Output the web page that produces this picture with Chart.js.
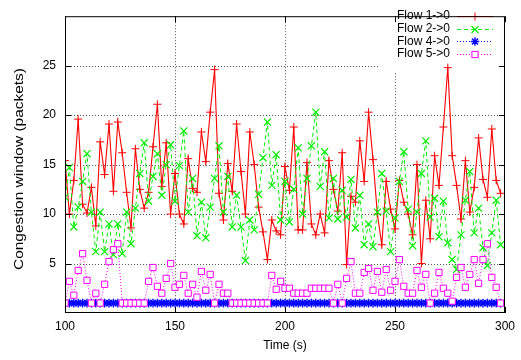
<!DOCTYPE html>
<html>
<head>
<meta charset="utf-8">
<script src="https://cdn.jsdelivr.net/npm/chart.js@4/dist/chart.umd.min.js"></script>
<style>
html,body{margin:0;padding:0;background:#fff;}
#wrap{width:521px;height:360px;}
</style>
</head>
<body>
<div id="wrap"><canvas id="c" width="521" height="360"></canvas></div>
<script>
const times = [100,102,104,106,108,110,112,114,116,118,120,122,124,126,128,130,132,134,136,138,
140,142,144,146,148,150,152,154,156,158,160,162,164,166,168,170,172,174,176,178,
180,182,184,186,188,190,192,194,196,198,200,202,204,206,208,210,212,214,216,218,
220,222,224,226,228,230,232,234,236,238,240,242,244,246,248,250,252,254,256,258,
260,262,264,266,268,270,272,274,276,278,280,282,284,286,288,290,292,294,296,298];

const flow1 = [15.4,10.0,13.4,19.6,11.0,10.1,12.7,8.8,17.3,14.0,
19.1,12.3,19.3,16.2,12.2,8.6,16.6,12.5,10.6,12.2,
16.8,21.1,12.8,17.2,10.0,14.1,10.0,9.0,15.6,12.6,
12.2,18.3,15.3,20.3,24.6,12.1,9.4,15.1,12.3,19.1,
14.3,10.0,18.3,15.0,10.7,8.2,5.4,9.4,8.3,7.9,
14.8,12.4,18.8,8.4,8.4,15.2,9.0,7.9,10.0,8.1,
15.4,12.5,10.3,16.2,4.9,11.8,11.2,17.4,13.3,20.3,
15.5,10.0,6.9,13.3,10.5,8.5,13.4,11.2,10.0,7.9,
15.0,5.0,11.4,7.5,15.9,12.9,18.8,24.8,15.9,12.9,
9.5,15.4,10.2,12.7,17.7,13.5,11.7,18.6,13.4,12.1];

const flow2 = [11.7,14.7,8.7,10.7,13.3,16.1,10.2,6.2,10.2,6.2,
9.0,5.9,9.0,6.0,10.2,7.0,10.6,14.1,17.2,11.3,
13.8,16.1,11.9,15.0,17.0,11.3,14.9,18.4,10.2,13.6,
7.8,11.2,7.6,10.7,13.6,16.9,10.2,13.8,8.7,11.9,
8.7,5.3,9.4,8.4,12.0,15.7,19.3,12.9,16.0,9.4,
13.3,9.2,12.5,16.7,10.0,13.6,16.9,20.3,12.8,16.3,
9.6,13.6,9.5,12.4,9.7,13.5,8.6,11.9,6.9,9.0,
6.7,10.2,14.1,10.3,6.2,9.6,13.3,16.3,10.5,6.8,
10.2,14.1,17.4,9.7,11.6,7.7,11.3,7.1,5.4,4.4,
7.9,11.4,14.3,8.1,10.6,6.6,4.8,8.1,11.4,6.9];

const flow4 = [1,1,1,1,1,1,1,1,1,1,1,1,1,1,1,1,1,1,1,1,
1,1,1,1,1,1,1,1,1,1,1,1,1,1,1,1,1,1,1,1,
1,1,1,1,1,1,1,1,1,1,1,1,1,1,1,1,1,1,1,1,
1,1,1,1,1,1,1,1,1,1,1,1,1,1,1,1,1,1,1,1,
1,1,1,1,1,1,1,1,1,1,1,1,1,1,1,1,1,1,1,1];

const flow5 = [1,3.2,1.8,4.3,6.0,3.3,1,2.0,1,2.9,
5.2,6.4,7.0,1,1,1,1,1,1,3.2,
4.6,2.7,2.0,3.5,5.0,2.6,2.9,3.8,2.0,2.9,
1.6,4.2,2.3,3.9,1,2.9,2.0,2.0,1,1,
1,1,1,1,1,1,1,3.8,2.4,3.2,
2.5,2.5,2.0,2.0,2.0,2.0,2.5,2.5,2.5,2.5,
2.5,1,2.9,1,3.5,5.2,2.0,2.0,4.1,4.5,
2.3,4.2,2.1,4.4,2.3,3.2,5.4,2.7,2.0,2.0,
4.3,2.6,3.9,1,2.0,4.1,2.5,2.0,1.2,3.6,
4.6,2.6,3.9,5.4,3.0,5.4,7.0,3.6,2.6,1];

const seriesLabels = ['Flow 1->0','Flow 2->0','Flow 4->0','Flow 5->0'];
const xTicks = [100,150,200,250,300];
const yTicks = [5,10,15,20,25];
const xTitle = 'Time (s)';
const yTitle = 'Congestion window (packets)';

const FONT = "'Liberation Sans', Arial, Helvetica, sans-serif";
Chart.defaults.font.family = FONT;
Chart.defaults.font.size = 12;
Chart.defaults.color = '#000';

function pts(arr){ return arr.map((v,i)=>({x:times[i], y:v})); }

const styles = [
  {color:'#ff0000', dash:[], ps:'cross', r:4, bg:'rgba(0,0,0,0)', lw:1.1, pw:1},
  {color:'#00ee00', dash:[4,3], ps:'crossRot', r:5, bg:'rgba(0,0,0,0)', lw:1, pw:1.2},
  {color:'#0000ff', dash:[1,2], ps:'star', r:4.3, bg:'rgba(0,0,0,0)', lw:1, pw:1.4},
  {color:'#ff00ff', dash:[1,2], ps:'rect', r:4.4, bg:'#ffffff', lw:1, pw:1}
];
const dataArrays = [flow1, flow2, flow4, flow5];

const datasets = dataArrays.map((arr,k)=>({
  label: seriesLabels[k],
  data: pts(arr),
  borderColor: styles[k].color,
  backgroundColor: styles[k].bg,
  borderWidth: styles[k].lw,
  borderDash: styles[k].dash,
  pointStyle: styles[k].ps,
  pointRadius: styles[k].r,
  pointBorderColor: styles[k].color,
  pointBackgroundColor: styles[k].bg,
  pointBorderWidth: styles[k].pw,
  pointHoverRadius: styles[k].r,
  tension: 0,
  fill: false,
  order: 4-k
}));

function drawMarker(ctx, ps, x, y, r, color, bg, pw){
  ctx.save();
  ctx.setLineDash([]);
  ctx.strokeStyle = color; ctx.lineWidth = pw;
  ctx.beginPath();
  if (ps==='cross' || ps==='star'){
    ctx.moveTo(x-r,y); ctx.lineTo(x+r,y); ctx.moveTo(x,y-r); ctx.lineTo(x,y+r);
  }
  if (ps==='crossRot' || ps==='star'){
    const d = r*Math.SQRT1_2;
    ctx.moveTo(x-d,y-d); ctx.lineTo(x+d,y+d); ctx.moveTo(x-d,y+d); ctx.lineTo(x+d,y-d);
  }
  ctx.stroke();
  if (ps==='rect'){
    const s = r*Math.SQRT1_2;
    ctx.fillStyle = bg; ctx.fillRect(x-s,y-s,2*s,2*s);
    ctx.strokeRect(x-s,y-s,2*s,2*s);
  }
  ctx.restore();
}

const decor = {
  id: 'decor',
  beforeDatasetsDraw(chart){
    const ctx = chart.ctx, a = chart.chartArea;
    const xs = chart.scales.x, ys = chart.scales.y;
    ctx.save();
    ctx.strokeStyle = '#555';
    ctx.lineWidth = 1;
    ctx.setLineDash([1,2]);
    ctx.beginPath();
    yTicks.forEach(v=>{ const py = Math.round(ys.getPixelForValue(v))+0.5; ctx.moveTo(a.left,py); ctx.lineTo(a.right,py); });
    xTicks.forEach(v=>{ if(v===xs.min||v===xs.max) return; const px = Math.round(xs.getPixelForValue(v))+0.5; ctx.moveTo(px,a.top); ctx.lineTo(px,a.bottom); });
    ctx.stroke();
    ctx.setLineDash([]);
    const lx = 380, ly = a.top+1;
    ctx.fillStyle = '#fff';
    ctx.fillRect(lx, ly, a.right-lx-1, 55);
    ctx.font = '12px ' + FONT;
    ctx.textAlign = 'right';
    ctx.textBaseline = 'middle';
    const rowY = [15.7, 28.5, 41.3, 54];
    seriesLabels.forEach((lab,k)=>{
      const y = rowY[k];
      ctx.fillStyle = '#000';
      ctx.fillText(lab, 450, y);
      const st = styles[k];
      ctx.save();
      ctx.strokeStyle = st.color; ctx.lineWidth = st.lw; ctx.setLineDash(st.dash);
      ctx.beginPath(); ctx.moveTo(457, Math.round(y)+0.5); ctx.lineTo(493, Math.round(y)+0.5); ctx.stroke();
      ctx.restore();
      drawMarker(ctx, st.ps, 475, Math.round(y)+0.5, st.r, st.color, st.bg, st.pw);
    });
    ctx.restore();
  },
  afterDraw(chart){
    const ctx = chart.ctx, a = chart.chartArea;
    const xs = chart.scales.x, ys = chart.scales.y;
    ctx.save();
    ctx.strokeStyle = '#000';
    ctx.lineWidth = 1;
    ctx.setLineDash([]);
    ctx.strokeRect(a.left+0.5, a.top+0.5, a.right-a.left-1, a.bottom-a.top-1);
    ctx.beginPath();
    yTicks.forEach(v=>{ const py = Math.round(ys.getPixelForValue(v))+0.5;
      ctx.moveTo(a.left,py); ctx.lineTo(a.left+6,py);
      ctx.moveTo(a.right-6,py); ctx.lineTo(a.right,py); });
    xTicks.forEach(v=>{ const px = Math.round(xs.getPixelForValue(v))+0.5;
      ctx.moveTo(px,a.bottom); ctx.lineTo(px,a.bottom-6);
      ctx.moveTo(px,a.top); ctx.lineTo(px,a.top+6); });
    ctx.stroke();
    ctx.fillStyle = '#000';
    ctx.font = '12px ' + FONT;
    ctx.textAlign = 'center';
    ctx.textBaseline = 'middle';
    ctx.fillText(xTitle, (a.left+a.right)/2, 346);
    ctx.translate(20, 169);
    ctx.rotate(-Math.PI/2);
    const w = ctx.measureText(yTitle).width;
    ctx.scale(202/w, 1);
    ctx.fillText(yTitle, 0, 0);
    ctx.restore();
  }
};

new Chart(document.getElementById('c'), {
  type: 'line',
  data: { datasets },
  options: {
    responsive: false,
    animation: false,
    events: [],
    layout: { padding: { left: 0, right: 13, top: 5, bottom: 0 } },
    plugins: { legend: { display: false }, tooltip: { enabled: false }, title: { display: false } },
    scales: {
      x: {
        type: 'linear', min: 100, max: 300,
        afterBuildTicks(s){ s.ticks = xTicks.map(v=>({value:v})); },
        afterFit(s){ s.height = 47; },
        grid: { display: false, drawTicks: false },
        border: { display: false },
        ticks: { padding: 6, font: { size: 12 }, color: '#000', maxRotation: 0, autoSkip: false }
      },
      y: {
        type: 'linear', min: 0, max: 30,
        afterBuildTicks(s){ s.ticks = [0].concat(yTicks, [30]).map(v=>({value:v})); },
        afterFit(s){ s.width = 65; },
        grid: { display: false, drawTicks: false },
        border: { display: false },
        ticks: { padding: 9, font: { size: 12 }, color: '#000', autoSkip: false,
          callback(v){ return (v===0||v===30) ? '' : String(v); } }
      }
    }
  },
  plugins: [decor]
});
</script>
</body>
</html>
